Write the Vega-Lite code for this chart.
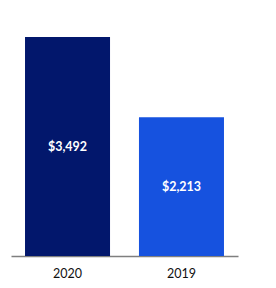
{
  "$schema": "https://vega.github.io/schema/vega-lite/v6.json",
  "width": 227,
  "height": 219,
  "autosize": {"type": "none"},
  "padding": {"left": 11, "top": 37, "right": 38, "bottom": 32},
  "background": "white",
  "config": {"view": {"stroke": null}},
  "data": {"values": [
    {"year": "2020", "value": 3492, "label": "$3,492"},
    {"year": "2019", "value": 2213, "label": "$2,213"}
  ]},
  "transform": [{"calculate": "datum.value / 2", "as": "mid"}],
  "encoding": {
    "x": {
      "field": "year", "type": "nominal", "sort": null,
      "scale": {"paddingInner": 0.254, "paddingOuter": 0.123},
      "axis": {"title": null, "ticks": false, "domainColor": "#7f7f7f", "domainWidth": 1.5,
               "labelAngle": 0, "labelFont": "Lato", "labelFontSize": 12.5, "labelColor": "#111111",
               "labelPadding": 11, "grid": false}
    }
  },
  "layer": [
    {
      "mark": {"type": "bar"},
      "encoding": {
        "y": {"field": "value", "type": "quantitative", "scale": {"domain": [0, 3492], "nice": false}, "axis": null},
        "color": {"field": "year", "type": "nominal", "sort": null,
                  "scale": {"domain": ["2020", "2019"], "range": ["#02176C", "#1652DF"]}, "legend": null}
      }
    },
    {
      "mark": {"type": "text", "color": "white", "font": "Lato", "fontWeight": "bold", "fontSize": 12.5, "baseline": "middle"},
      "encoding": {
        "y": {"field": "mid", "type": "quantitative"},
        "text": {"field": "label"}
      }
    }
  ]
}
